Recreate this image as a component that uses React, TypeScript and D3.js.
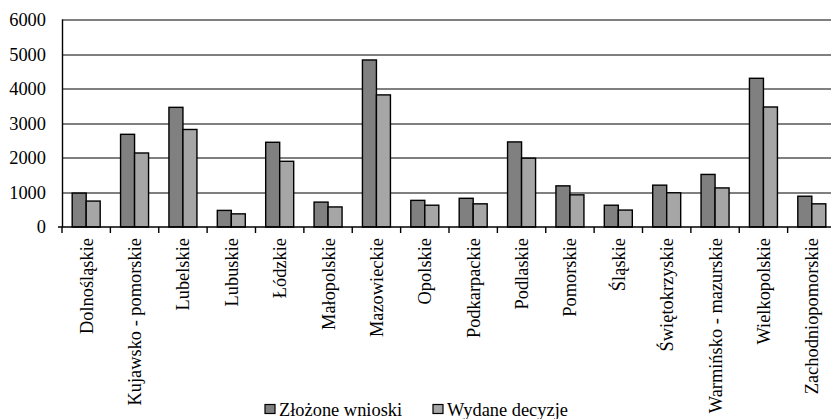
import React, { useEffect, useRef } from "react";
import * as d3 from "d3";

const REGIONS = [
  "Dolnośląskie", "Kujawsko - pomorskie", "Lubelskie", "Lubuskie", "Łódzkie",
  "Małopolskie", "Mazowieckie", "Opolskie", "Podkarpackie", "Podlaskie",
  "Pomorskie", "Śląskie", "Świętokrzyskie", "Warmińsko - mazurskie",
  "Wielkopolskie", "Zachodniopomorskie",
];
const ZLOZONE = [980, 2680, 3460, 480, 2450, 720, 4830, 770, 830, 2460, 1190, 630, 1210, 1520, 4300, 890];
const WYDANE = [750, 2140, 2820, 380, 1900, 580, 3820, 630, 670, 1990, 930, 490, 990, 1130, 3470, 670];
const SERIES = ["Złożone wnioski", "Wydane decyzje"];
const COLORS = ["#808080", "#a6a6a6"];
const Y_TICKS = [0, 1000, 2000, 3000, 4000, 5000, 6000];

export default function App() {
  const svgRef = useRef<SVGSVGElement | null>(null);

  useEffect(() => {
    if (!svgRef.current) return;
    const width = 831;
    const height = 419;
    const margin = { top: 19.5, right: -5, bottom: 192, left: 62 };
    const svg = d3.select(svgRef.current);
    svg.selectAll("*").remove();

    const chartWidth = width - margin.left - margin.right;
    const chartHeight = height - margin.top - margin.bottom;
    const font = "Liberation Serif, Times New Roman, serif";
    const fontSize = "18.4px";

    const g = svg.append("g").attr("transform", `translate(${margin.left},${margin.top})`);

    const x = d3.scaleBand().domain(REGIONS).range([0, chartWidth]).paddingInner(0).paddingOuter(0);
    const inner = d3.scaleBand().domain(SERIES).range([0, 28]);
    const y = d3.scaleLinear().domain([0, 6000]).range([chartHeight, 0]);

    // gridlines
    g.selectAll(".grid")
      .data(Y_TICKS.slice(1))
      .enter()
      .append("line")
      .attr("x1", 0)
      .attr("x2", chartWidth)
      .attr("y1", d => Math.round(y(d)) + 0.5)
      .attr("y2", d => Math.round(y(d)) + 0.5)
      .attr("stroke", "#000")
      .attr("stroke-width", 1);

    // y labels
    g.selectAll(".ylab")
      .data(Y_TICKS)
      .enter()
      .append("text")
      .attr("x", -16)
      .attr("y", d => y(d))
      .attr("dy", "0.35em")
      .attr("text-anchor", "end")
      .style("font-family", font)
      .style("font-size", fontSize)
      .attr("fill", "#000")
      .text(d => d);

    // bars
    const data = REGIONS.map((r, i) => ({ region: r, values: [ZLOZONE[i], WYDANE[i]] }));
    const groups = g.selectAll(".grp")
      .data(data)
      .enter()
      .append("g")
      .attr("transform", d => `translate(${x(d.region)! + (x.bandwidth() - 28) / 2},0)`);

    groups.selectAll("rect")
      .data(d => d.values.map((v, k) => ({ key: SERIES[k], v, k })))
      .enter()
      .append("rect")
      .attr("x", d => inner(d.key)!)
      .attr("y", d => y(d.v))
      .attr("width", inner.bandwidth())
      .attr("height", d => chartHeight - y(d.v))
      .attr("fill", d => COLORS[d.k])
      .attr("stroke", "#000")
      .attr("stroke-width", 1.4);

    // axes lines
    g.append("line")
      .attr("x1", 0.5).attr("x2", 0.5)
      .attr("y1", 0).attr("y2", chartHeight)
      .attr("stroke", "#000").attr("stroke-width", 1.4);
    g.append("line")
      .attr("x1", -4).attr("x2", chartWidth)
      .attr("y1", chartHeight).attr("y2", chartHeight)
      .attr("stroke", "#000").attr("stroke-width", 1.4);

    // category ticks
    g.selectAll(".xtick")
      .data(d3.range(REGIONS.length + 1))
      .enter()
      .append("line")
      .attr("x1", i => i * x.bandwidth())
      .attr("x2", i => i * x.bandwidth())
      .attr("y1", chartHeight)
      .attr("y2", chartHeight + 6)
      .attr("stroke", "#000")
      .attr("stroke-width", 1.4);

    // category labels
    g.selectAll(".xlab")
      .data(REGIONS)
      .enter()
      .append("text")
      .attr("transform", d => `translate(${x(d)! + x.bandwidth() / 2},${chartHeight + 11}) rotate(-90)`)
      .attr("text-anchor", "end")
      .attr("dy", "0.35em")
      .style("font-family", font)
      .style("font-size", fontSize)
      .attr("fill", "#000")
      .text(d => d);

    // legend
    const legendX = [265, 433];
    const legend = svg.selectAll(".leg")
      .data(SERIES)
      .enter()
      .append("g")
      .attr("transform", (d, i) => `translate(${legendX[i]},404.5)`);
    legend.append("rect")
      .attr("width", 10)
      .attr("height", 9)
      .attr("fill", (d, i) => COLORS[i])
      .attr("stroke", "#000")
      .attr("stroke-width", 1.2);
    legend.append("text")
      .attr("x", 14)
      .attr("y", 5)
      .attr("dy", "0.35em")
      .style("font-family", font)
      .style("font-size", fontSize)
      .attr("fill", "#000")
      .text(d => d);
  }, []);

  return (
    <svg
      ref={svgRef}
      width={831}
      height={419}
      style={{ position: "absolute", left: 0, top: 0, background: "#fff", display: "block" }}
    />
  );
}
